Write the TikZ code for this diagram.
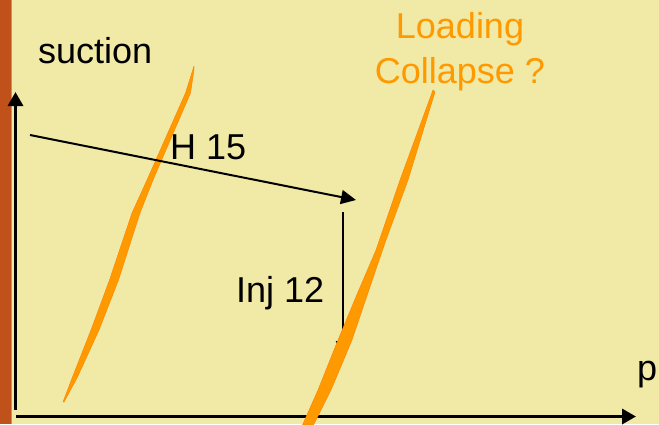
\documentclass[tikz,border=0pt]{standalone}
\usepackage{fontspec}
\setmainfont{Liberation Sans}
\usetikzlibrary{arrows.meta}
\definecolor{paletteSand}{HTML}{F1E9A6}
\definecolor{paletteRust}{HTML}{C0511B}
\definecolor{paletteOrange}{HTML}{FF9900}

\begin{document}
\begin{tikzpicture}[
  x=1pt, y=-1pt,
  lbl/.style={inner sep=0pt, anchor=base west, font=\fontsize{36}{45}\selectfont},
  axis/.style={line width=3.3pt, -{Triangle[length=14pt, width=15pt]}},
  flow/.style={line width=2pt, -{Triangle[length=15pt, width=14pt]}},
  lcband/.style={fill=paletteOrange, draw=paletteOrange!85!red, line width=0.4pt, line join=round}
]
\path[use as bounding box] (0,0) rectangle (659,424);
\clip (0,0) rectangle (659,424);
\fill[paletteSand] (0,0) rectangle (659,424);
\fill[paletteRust] (0,0) rectangle (10.5,424);
\fill[paletteRust!60!paletteSand] (10.5,0) rectangle (11.3,424);

\coordinate (ylo) at (15.5,410);
\coordinate (yhi) at (15.5,92);
\coordinate (xlo) at (16,416.5);
\coordinate (xhi) at (636,416.5);
\coordinate (hstart) at (30,135);
\coordinate (hend) at (356,200);
\coordinate (injtop) at (343,212);
\coordinate (injbot) at (343,356);

\draw[axis] (ylo) -- (yhi);
\draw[axis] (xlo) -- (xhi);

\fill[lcband] plot coordinates {(63,402) (72.5,377) (91,330) (109.5,280) (132,213) (147,180) (185.5,93) (194,66)
  (194,70) (190.5,93) (153,180) (140,213) (118.5,280) (99,330) (77.5,377) (64,402)} -- cycle;

\draw[flow] (hstart) -- (hend);
\draw[flow] (injtop) -- (injbot);

\fill[lcband] plot coordinates {(302,426) (318,390) (338,340) (358,292) (376,250) (400,180) (433,90)
  (435,92) (408,180) (386,240) (374,275) (352,340) (331,390) (313,426)} -- cycle;

\node[lbl] (suction) at (38,63) {suction};
\node[lbl] (pres) at (637,380) {p};
\node[lbl] (h15) at (170,159) {H 15};
\node[lbl] (inj12) at (236,302) {Inj 12};
\node[lbl, anchor=base, align=center, text=paletteOrange] (lc) at (460,83) {Loading\\Collapse ?};
\end{tikzpicture}
\end{document}
